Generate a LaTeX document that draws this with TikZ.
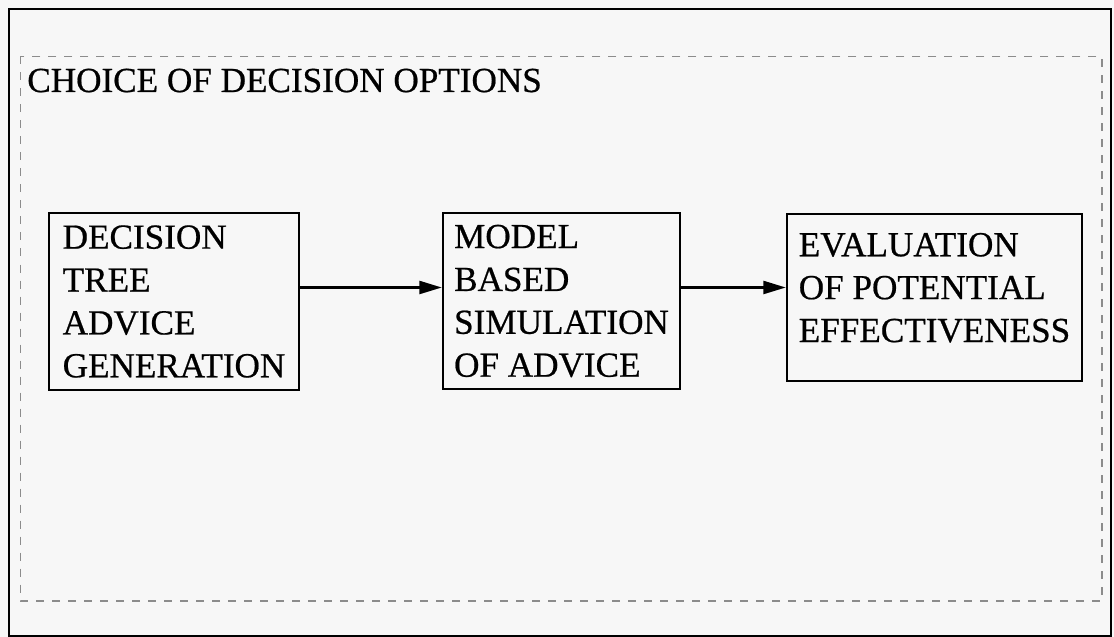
\documentclass[tikz,border=0pt]{standalone}
\usepackage{fontspec}
\setmainfont[FakeBold=0.6]{Liberation Serif}
\usetikzlibrary{arrows.meta}

\tikzset{
	stage/.style={draw=black, line width=1.4pt, align=left, inner sep=0pt,
		font=\fontsize{20}{24.4}\selectfont},
}

\begin{document}
\begin{tikzpicture}
	\useasboundingbox[fill=black!3] (0,0) rectangle (22.28,-12.74);
	\path[draw, line width=1.4pt] (0.18,-12.72) rectangle (22.22,-0.18);
	\path[draw, black!45, dash pattern=on 0.16cm off 0.16cm, line width=0.7pt]
		(0.41,-1.13) rectangle (22.04,-12.02);

	\node[anchor=base west, inner sep=0pt, font=\fontsize{20}{24.4}\selectfont]
		(title) at (0.54,-1.84) {CHOICE OF DECISION OPTIONS};

	\node[stage, minimum width=5cm, minimum height=3.54cm] (tree) at (3.48,-6.03)
		{DECISION\\TREE\\ADVICE\\GENERATION};
	\node[stage, minimum width=4.74cm, minimum height=3.52cm] (sim) at (11.23,-6.02)
		{MODEL\\BASED\\SIMULATION\\OF ADVICE};
	\node[stage, minimum width=5.9cm, minimum height=3.34cm, text depth=0.4cm] (eval) at (18.69,-5.95)
		{EVALUATION\\OF POTENTIAL\\EFFECTIVENESS};

	\coordinate (lvl) at (0,-5.75);
	\begin{scope}[>={Triangle[length=0.45cm,width=0.26cm]},
			every edge/.style={draw=black}]
		\path[->, line width=1.4pt] (tree.east |- lvl) edge (sim.west |- lvl);
		\path[->, line width=1.4pt] (sim.east |- lvl) edge (eval.west |- lvl);
	\end{scope}
\end{tikzpicture}
\end{document}
